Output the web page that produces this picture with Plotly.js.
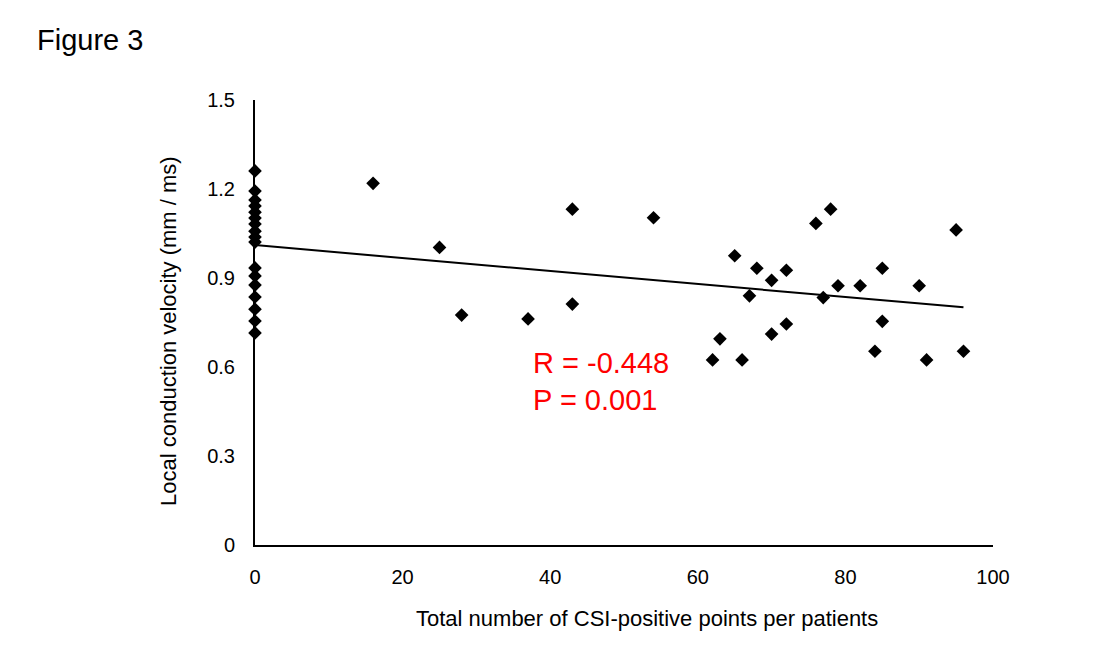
<!DOCTYPE html>
<html>
<head>
<meta charset="utf-8">
<script src="https://cdn.plot.ly/plotly-3.0.1.min.js"></script>
<style>
  html, body { margin: 0; padding: 0; background: #fff; }
  #chart { width: 1115px; height: 646px; }
</style>
</head>
<body>
<div id="chart"></div>
<script>
// CSI-positive points (x) vs local conduction velocity (y)
const csiPoints = [
  0, 0, 0, 0, 0, 0, 0, 0, 0, 0, 0, 0, 0, 0, 0, 0, 0,
  16, 25, 28, 37, 43, 43, 54,
  62, 63, 65, 66, 67, 68, 70, 70, 72, 72, 76, 77, 78, 79, 82, 84, 85, 85, 90, 91, 95, 96
];
const velocity = [
  1.261, 1.193, 1.163, 1.143, 1.122, 1.102, 1.082, 1.058, 1.038, 1.021,
  0.934, 0.907, 0.876, 0.836, 0.795, 0.755, 0.715,
  1.219, 1.003, 0.775, 0.762, 1.132, 0.812, 1.103,
  0.624, 0.695, 0.975, 0.624, 0.840, 0.933, 0.892, 0.711, 0.926, 0.745,
  1.084, 0.834, 1.132, 0.874, 0.874, 0.653, 0.933, 0.754, 0.874, 0.624, 1.062, 0.653
];
// Linear trend line end points
const trendX = [0, 96];
const trendY = [1.011, 0.801];
const xTicks = [0, 20, 40, 60, 80, 100];
const yTicks = [0, 0.3, 0.6, 0.9, 1.2, 1.5];
const statsText = ["R = -0.448", "P = 0.001"];
const xTitle = "Total number of CSI-positive points per patients";
const yTitle = "Local conduction velocity (mm / ms)";

const font = "Liberation Sans, Arial, sans-serif";
const W = 1115, H = 646;

const traces = [
  {
    x: trendX, y: trendY, type: "scatter", mode: "lines",
    line: { color: "#000", width: 2 }, hoverinfo: "skip", cliponaxis: false
  },
  {
    x: csiPoints, y: velocity, type: "scatter", mode: "markers",
    marker: { symbol: "diamond", size: 10.5, color: "#000" },
    cliponaxis: false
  }
];

const layout = {
  width: W, height: H,
  margin: { l: 255, r: 122, t: 100, b: 101 },
  paper_bgcolor: "#fff", plot_bgcolor: "#fff",
  showlegend: false,
  font: { family: font, color: "#000", size: 20 },
  title: {
    text: "Figure 3", xref: "container", yref: "container",
    x: 37 / W, xanchor: "left", y: 1 - 40 / H, yanchor: "middle",
    font: { family: font, size: 29, color: "#000" }
  },
  xaxis: {
    range: [0, 100], tickvals: xTicks, ticktext: xTicks.map(String),
    showgrid: false, zeroline: false, showline: true, linecolor: "#000", linewidth: 2,
    ticks: "", ticklabelstandoff: 13, tickfont: { size: 20 }
  },
  yaxis: {
    range: [0, 1.5], tickvals: yTicks, ticktext: yTicks.map(String),
    showgrid: false, zeroline: false, showline: true, linecolor: "#000", linewidth: 2,
    ticks: "", ticklabelstandoff: 14, tickfont: { size: 20 }
  },
  annotations: [
    {
      xref: "paper", yref: "paper", x: (647 - 255) / (W - 255 - 122), y: -(618 - 545) / (H - 100 - 101),
      xanchor: "center", yanchor: "middle", text: xTitle, showarrow: false,
      font: { family: font, size: 22, color: "#000" }
    },
    {
      xref: "paper", yref: "paper", x: -(255 - 168) / (W - 255 - 122), y: (545 - 331) / (H - 100 - 101),
      xanchor: "center", yanchor: "middle", textangle: -90, text: yTitle, showarrow: false,
      font: { family: font, size: 22, color: "#000" }
    },
    {
      xref: "x", yref: "y", x: 37.4, y: 0.615, xanchor: "left", yanchor: "middle",
      text: statsText[0], showarrow: false, font: { family: font, size: 29, color: "#ff0000" }
    },
    {
      xref: "x", yref: "y", x: 37.4, y: 0.49, xanchor: "left", yanchor: "middle",
      text: statsText[1], showarrow: false, font: { family: font, size: 29, color: "#ff0000" }
    }
  ]
};

Plotly.newPlot("chart", traces, layout, { staticPlot: true, displayModeBar: false });
</script>
</body>
</html>
